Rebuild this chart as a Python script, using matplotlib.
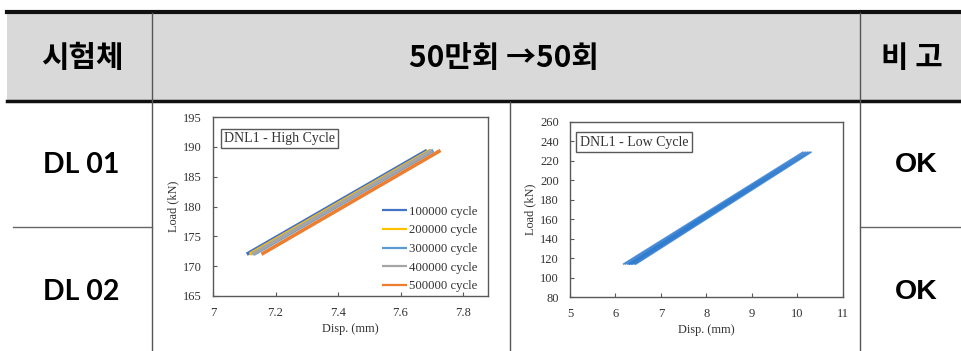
import matplotlib.pyplot as plt
from matplotlib.patches import Rectangle

W, H = 962, 351

# 표 텍스트
header_labels = ['시험체', '50만회 →50회', '비 고']
specimens = ['DL 01', 'DL 02']
remarks = ['OK', 'OK']

# High cycle (각 사이클의 하단/상단 끝점)
hc_names = ['100000 cycle', '200000 cycle', '300000 cycle', '400000 cycle', '500000 cycle']
hc_colors = ['#4472C4', '#FFC000', '#5B9BD5', '#A5A5A5', '#ED7D31']
hc_x_low = [7.108, 7.118, 7.130, 7.125, 7.155]
hc_x_high = [7.685, 7.695, 7.705, 7.700, 7.728]
hc_y_low = 172.0
hc_y_high = 189.4

# Low cycle (반복 루프)
lc_x_low = [6.18, 6.22, 6.27, 6.31, 6.36]
lc_x_high = [10.12, 10.17, 10.22, 10.26, 10.30]
lc_x_back = [6.30, 6.34, 6.38, 6.42, 6.45]
lc_y_low = 114.0
lc_y_high = 229.0

serif = 'Liberation Serif'
kr = ['Noto Sans CJK KR', 'DejaVu Sans']


def fx(px):
    return px / W


def fy(py):
    return 1 - py / H


fig = plt.figure(figsize=(W / 100, H / 100), dpi=100)

# 표 그리기용 배경 축 (픽셀 좌표)
bg = fig.add_axes([0, 0, 1, 1])
bg.set_xlim(0, W)
bg.set_ylim(H, 0)
bg.axis('off')
bg.add_patch(Rectangle((7, 13), W - 7, 88, color='#d9d9d9', lw=0))
bg.plot([7, W], [12, 12], color='#111111', lw=3)
bg.plot([7, W], [101, 101], color='#111111', lw=2.5)
bg.plot([152, 152], [13, H], color='#555555', lw=1)
bg.plot([860, 860], [13, H], color='#555555', lw=1)
bg.plot([510, 510], [102, H], color='#555555', lw=1)
bg.plot([13, 152], [227, 227], color='#666666', lw=1)
bg.plot([860, W], [227, 227], color='#666666', lw=1)

bg.text(82, 58, header_labels[0], family=kr, weight='bold', fontsize=21.5, ha='center', va='center')
bg.text(504, 58, header_labels[1], family=kr, weight='bold', fontsize=21.5, ha='center', va='center')
bg.text(912, 58, header_labels[2], family=kr, weight='bold', fontsize=21.5, ha='center', va='center')

for i, (sp, rm) in enumerate(zip(specimens, remarks)):
    yc = 165 + i * 127
    bg.text(81, yc, sp, family='Lato', weight='bold', fontsize=20.5, ha='center', va='center')
    bg.text(916, yc, rm, family='Liberation Sans', weight='bold', fontsize=20.5, ha='center', va='center')


def style_axes(ax):
    for s in ax.spines.values():
        s.set_color('#595959')
        s.set_linewidth(1)
    ax.tick_params(direction='in', length=3, width=0.8, color='#595959',
                   labelsize=9, labelcolor='#333333', pad=8)
    for lab in ax.get_xticklabels() + ax.get_yticklabels():
        lab.set_family(serif)


# 좌측: High cycle
ax1 = fig.add_axes([fx(213), fy(296), fx(488 - 213), (296 - 117) / H])
for name, c, x0, x1 in zip(hc_names, hc_colors, hc_x_low, hc_x_high):
    ax1.plot([x0, x1], [hc_y_low, hc_y_high], color=c, lw=2.6, label=name,
             solid_capstyle='butt')
ax1.set_xlim(7, 7.88)
ax1.set_ylim(165, 195)
ax1.set_xticks([7, 7.2, 7.4, 7.6, 7.8])
ax1.set_xticklabels(['7', '7.2', '7.4', '7.6', '7.8'])
ax1.set_yticks(range(165, 196, 5))
style_axes(ax1)
ax1.set_xlabel('Disp. (mm)', family=serif, fontsize=8.8, color='#333333', labelpad=3)
ax1.set_ylabel('Load (kN)', family=serif, fontsize=8.8, color='#333333', labelpad=3)
leg = ax1.legend(loc='lower right', frameon=False, prop={'family': serif, 'size': 9.2},
                 handlelength=2.0, handletextpad=0.15, labelspacing=0.52,
                 borderaxespad=0.3, bbox_to_anchor=(0.995, -0.03))
for t in leg.get_texts():
    t.set_color('#333333')
for h in leg.legend_handles:
    h.set_linewidth(1.6)
ax1.text(0.04, 0.88, 'DNL1 - High Cycle', transform=ax1.transAxes, family=serif,
         fontsize=10, color='#333333', va='center', ha='left',
         bbox=dict(boxstyle='square,pad=0.25', fc='white', ec='#595959', lw=1))

# 우측: Low cycle
ax2 = fig.add_axes([fx(570), fy(297), fx(843 - 570), (297 - 122) / H])
for x0, x1, xb in zip(lc_x_low, lc_x_high, lc_x_back):
    ax2.plot([x0, x1, xb], [lc_y_low, lc_y_high, lc_y_low], color='#2E7BCF', lw=1.2, alpha=0.8)
ax2.set_xlim(5, 11)
ax2.set_ylim(80, 260)
ax2.set_xticks(range(5, 12))
ax2.set_yticks(range(80, 261, 20))
style_axes(ax2)
ax2.set_xlabel('Disp. (mm)', family=serif, fontsize=8.8, color='#333333', labelpad=3)
ax2.set_ylabel('Load (kN)', family=serif, fontsize=8.8, color='#333333', labelpad=3)
ax2.text(0.035, 0.885, 'DNL1 - Low Cycle', transform=ax2.transAxes, family=serif,
         fontsize=10, color='#333333', va='center', ha='left',
         bbox=dict(boxstyle='square,pad=0.25', fc='white', ec='#595959', lw=1))

fig.savefig('out.png', dpi=100)
